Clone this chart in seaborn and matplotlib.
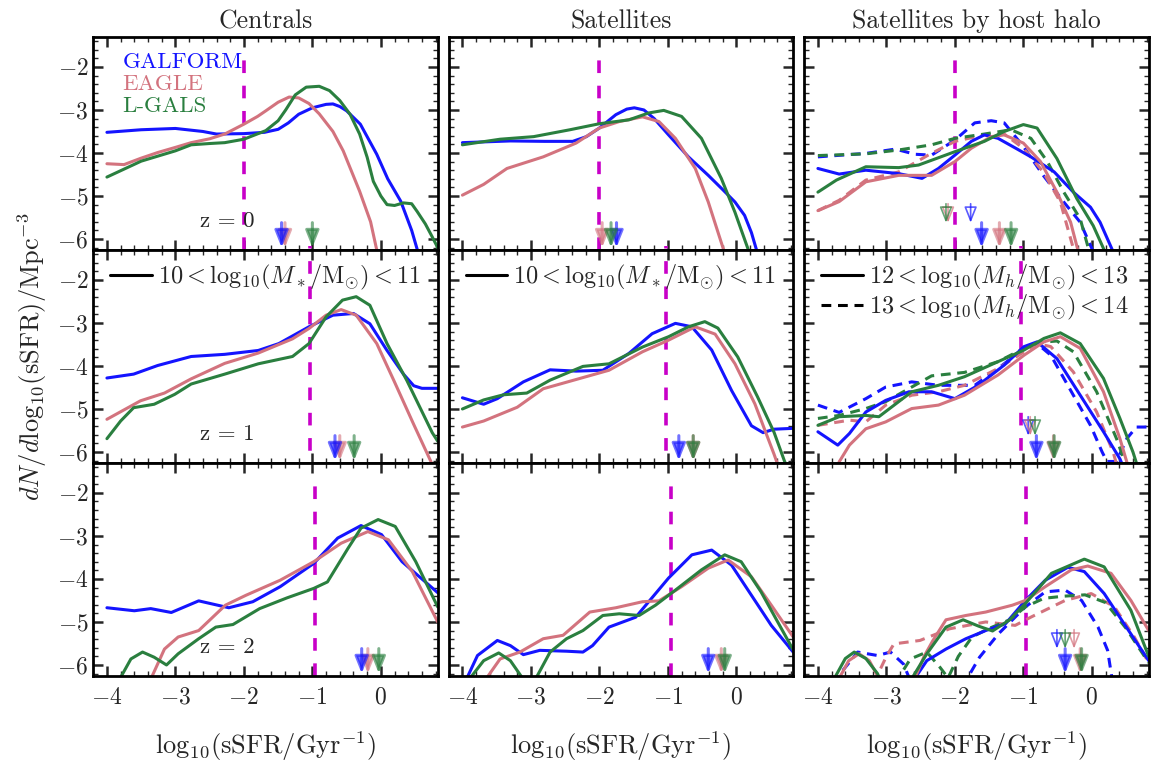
import seaborn as sns
import matplotlib.pyplot as plt
from matplotlib.lines import Line2D
from matplotlib.ticker import MultipleLocator

# style: seaborn ticks, then serif / computer-modern look
sns.set_style('ticks')
plt.rcParams['font.family'] = 'serif'
plt.rcParams['font.serif'] = ['cmr10', 'DejaVu Serif']
plt.rcParams['mathtext.fontset'] = 'cm'
plt.rcParams['axes.formatter.use_mathtext'] = True
plt.rcParams['axes.unicode_minus'] = True

BLUE = '#1414ff'
PINK = '#d3737e'
GREEN = '#2a7f3f'
MAGENTA = '#c800c8'

# ---------------- data ----------------
# z = 0, centrals
cen0_gf = ([-4.0, -3.5, -3.0, -2.6, -2.4, -2.0, -1.7, -1.5, -1.35, -1.2, -1.0, -0.8, -0.7, -0.6, -0.5, -0.3, -0.06, 0.1, 0.29, 0.45, 0.56],
           [-3.52, -3.46, -3.43, -3.5, -3.56, -3.55, -3.52, -3.45, -3.3, -3.1, -2.95, -2.87, -2.86, -2.92, -3.02, -3.33, -4.03, -4.6, -5.12, -5.8, -6.4])
cen0_ea = ([-4.0, -3.75, -3.5, -3.26, -3.0, -2.77, -2.5, -2.28, -2.0, -1.8, -1.68, -1.5, -1.34, -1.2, -1.05, -0.9, -0.7, -0.55, -0.31, -0.15, -0.04],
           [-4.25, -4.27, -4.12, -3.99, -3.87, -3.76, -3.67, -3.56, -3.33, -3.15, -3.02, -2.82, -2.70, -2.72, -2.85, -3.09, -3.5, -3.95, -4.89, -5.6, -6.4])
cen0_lg = ([-4.0, -3.5, -3.0, -2.77, -2.5, -2.28, -2.0, -1.68, -1.5, -1.39, -1.25, -1.09, -0.9, -0.75, -0.6, -0.45, -0.31, -0.2, -0.11, 0.0, 0.09, 0.2, 0.33, 0.45, 0.53, 0.65, 0.75, 0.83],
           [-4.56, -4.19, -3.95, -3.81, -3.78, -3.76, -3.68, -3.48, -3.25, -3.0, -2.65, -2.47, -2.45, -2.55, -2.78, -3.1, -3.56, -4.1, -4.66, -5.0, -5.2, -5.22, -5.16, -5.18, -5.36, -5.65, -5.95, -6.2])

# z = 0, satellites
sat0_gf = ([-4.0, -3.3, -2.8, -2.39, -2.19, -2.0, -1.76, -1.6, -1.49, -1.35, -1.2, -0.99, -0.7, -0.41, -0.2, -0.02, 0.12, 0.22, 0.29, 0.35],
           [-3.76, -3.72, -3.73, -3.73, -3.62, -3.42, -3.11, -2.98, -2.95, -3.0, -3.2, -3.58, -4.09, -4.52, -4.85, -5.14, -5.45, -5.85, -6.23, -6.5])
sat0_ea = ([-4.0, -3.69, -3.35, -2.82, -2.34, -2.0, -1.71, -1.37, -1.13, -0.89, -0.6, -0.41, -0.19, -0.1],
           [-4.98, -4.73, -4.36, -4.09, -3.77, -3.42, -3.27, -3.16, -3.27, -3.66, -4.36, -5.14, -6.23, -6.6])
sat0_lg = ([-4.0, -3.45, -2.96, -2.43, -2.0, -1.57, -1.28, -1.06, -0.8, -0.51, -0.22, -0.02, 0.17, 0.25],
           [-3.81, -3.68, -3.62, -3.46, -3.32, -3.23, -3.07, -3.01, -3.15, -3.66, -4.59, -5.38, -6.23, -6.6])

# z = 0, satellites by host halo (solid: 12-13, dashed: 13-14)
host0_gf = ([-4.0, -3.69, -3.3, -2.82, -2.48, -2.24, -2.0, -1.76, -1.57, -1.37, -1.1, -0.89, -0.55, -0.27, -0.02, 0.12, 0.29, 0.36],
            [-4.36, -4.49, -4.40, -4.48, -4.59, -4.36, -4.05, -3.73, -3.58, -3.66, -3.9, -4.09, -4.44, -4.91, -5.26, -5.61, -6.22, -6.5])
host0_gf_d = ([-4.0, -3.3, -2.87, -2.58, -2.34, -2.0, -1.71, -1.47, -1.28, -1.0, -0.71, -0.41, -0.17, 0.0, 0.1],
              [-4.09, -4.01, -3.91, -4.03, -4.05, -3.70, -3.30, -3.25, -3.30, -3.85, -4.52, -5.14, -5.61, -6.22, -6.6])
host0_ea = ([-4.0, -3.69, -3.3, -2.82, -2.34, -2.0, -1.76, -1.47, -1.28, -1.0, -0.75, -0.51, -0.31, -0.21, -0.12],
            [-5.34, -5.13, -4.67, -4.52, -4.52, -4.2, -3.89, -3.62, -3.58, -3.77, -4.2, -4.91, -5.61, -6.22, -6.6])
host0_ea_d = ([-4.0, -3.69, -3.3, -2.82, -2.39, -2.0, -1.57, -1.28, -1.0, -0.71, -0.46, -0.27, -0.18],
              [-5.34, -5.1, -4.63, -4.44, -4.05, -3.73, -3.58, -3.56, -3.89, -4.44, -5.14, -6.22, -6.6])
host0_lg = ([-4.0, -3.73, -3.3, -2.82, -2.53, -2.0, -1.57, -1.28, -1.0, -0.8, -0.51, -0.22, 0.02, 0.17, 0.25],
            [-4.91, -4.63, -4.32, -4.34, -4.28, -3.97, -3.73, -3.5, -3.34, -3.42, -4.13, -5.06, -5.69, -6.22, -6.6])
host0_lg_d = ([-4.0, -3.3, -2.82, -2.34, -2.0, -1.57, -1.18, -0.89, -0.65, -0.41, -0.17, -0.05, 0.05],
              [-4.06, -4.02, -3.93, -3.81, -3.66, -3.56, -3.46, -3.66, -4.2, -4.91, -5.53, -6.22, -6.6])

# z = 1, centrals
cen1_gf = ([-4.0, -3.61, -3.26, -2.77, -2.28, -1.79, -1.49, -1.05, -0.7, -0.4, -0.16, 0.09, 0.33, 0.48, 0.6, 0.83],
           [-4.28, -4.19, -3.99, -3.78, -3.73, -3.64, -3.48, -3.09, -2.82, -2.78, -3.02, -3.64, -4.19, -4.46, -4.52, -4.52])
cen1_ea = ([-4.0, -3.51, -3.16, -2.77, -2.28, -1.79, -1.29, -1.05, -0.8, -0.58, -0.36, -0.06, 0.19, 0.48, 0.73, 0.8],
           [-5.24, -4.81, -4.63, -4.30, -3.94, -3.70, -3.37, -3.13, -2.82, -2.69, -2.82, -3.48, -4.34, -5.36, -6.22, -6.5])
cen1_lg = ([-4.0, -3.8, -3.61, -3.31, -3.01, -2.77, -2.28, -1.79, -1.29, -1.05, -0.8, -0.56, -0.36, -0.16, 0.09, 0.38, 0.75, 0.83],
           [-5.69, -5.28, -4.97, -4.89, -4.66, -4.42, -4.19, -3.95, -3.78, -3.48, -2.86, -2.47, -2.39, -2.59, -3.48, -4.34, -5.55, -5.75])

# z = 1, satellites
sat1_gf = ([-4.0, -3.69, -3.49, -3.11, -2.72, -2.34, -1.95, -1.57, -1.23, -0.89, -0.65, -0.36, -0.07, 0.22, 0.39, 0.55, 0.83],
           [-4.74, -4.89, -4.76, -4.37, -4.09, -4.12, -4.10, -3.71, -3.25, -3.01, -3.09, -3.63, -4.57, -5.39, -5.55, -5.47, -5.45])
sat1_ea = ([-4.0, -3.69, -3.2, -2.82, -2.24, -1.86, -1.37, -0.99, -0.6, -0.31, -0.02, 0.27, 0.55, 0.65],
           [-5.42, -5.28, -4.96, -4.53, -4.27, -4.10, -3.67, -3.40, -3.09, -3.26, -3.95, -4.88, -6.05, -6.5])
sat1_lg = ([-4.0, -3.69, -3.4, -3.06, -2.72, -2.24, -1.86, -1.37, -0.99, -0.7, -0.46, -0.27, 0.02, 0.31, 0.55, 0.7, 0.78],
           [-5.0, -4.79, -4.67, -4.63, -4.33, -4.01, -3.95, -3.56, -3.32, -3.09, -2.97, -3.12, -3.79, -4.72, -5.54, -6.2, -6.5])

# z = 1, satellites by host halo
host1_gf = ([-4.0, -3.71, -3.54, -3.3, -3.01, -2.67, -2.34, -2.0, -1.66, -1.28, -0.99, -0.8, -0.51, -0.17, 0.17, 0.41, 0.5],
            [-5.53, -5.84, -5.57, -5.07, -4.80, -4.60, -4.60, -4.76, -4.45, -3.98, -3.55, -3.44, -3.83, -4.68, -5.53, -6.16, -6.5])
host1_gf_d = ([-4.0, -3.69, -3.3, -3.01, -2.63, -2.24, -1.71, -1.37, -0.99, -0.8, -0.6, -0.27, -0.02, 0.15, 0.22, 0.36, 0.51, 0.65, 0.83],
              [-4.91, -5.08, -4.76, -4.49, -4.37, -4.45, -4.45, -4.06, -3.59, -3.48, -3.75, -4.68, -5.38, -6.0, -6.22, -6.22, -5.69, -5.42, -5.42])
host1_ea = ([-3.75, -3.69, -3.54, -3.3, -3.01, -2.63, -2.24, -1.86, -1.37, -0.99, -0.7, -0.46, -0.17, 0.17, 0.41, 0.51, 0.6],
            [-6.6, -6.23, -5.84, -5.46, -5.30, -4.99, -4.91, -4.68, -4.21, -3.75, -3.44, -3.32, -3.59, -4.60, -5.69, -6.23, -6.6])
host1_ea_d = ([-4.0, -3.54, -3.3, -3.01, -2.63, -2.24, -1.86, -1.37, -0.99, -0.8, -0.6, -0.27, 0.07, 0.31, 0.4],
              [-5.38, -5.26, -5.30, -4.91, -4.68, -4.60, -4.45, -4.06, -3.67, -3.48, -3.55, -4.14, -5.07, -6.0, -6.5])
host1_lg = ([-4.0, -3.69, -3.3, -3.11, -2.92, -2.63, -2.24, -1.86, -1.37, -0.99, -0.7, -0.46, -0.17, 0.17, 0.41, 0.6, 0.7],
            [-5.38, -5.18, -5.15, -5.18, -4.95, -4.60, -4.45, -4.25, -3.90, -3.63, -3.36, -3.23, -3.48, -4.29, -5.22, -6.0, -6.5])
host1_lg_d = ([-4.0, -3.69, -3.3, -3.01, -2.63, -2.34, -1.86, -1.37, -0.99, -0.75, -0.51, -0.27, 0.07, 0.36, 0.48, 0.55],
              [-5.22, -5.15, -4.99, -4.83, -4.49, -4.23, -4.15, -3.90, -3.59, -3.45, -3.42, -3.67, -4.60, -5.69, -6.23, -6.5])

# z = 2, centrals
cen2_gf = ([-4.0, -3.6, -3.36, -3.06, -2.66, -2.22, -1.87, -1.47, -0.98, -0.63, -0.29, 0.01, 0.31, 0.83],
           [-4.67, -4.74, -4.69, -4.78, -4.51, -4.67, -4.53, -4.18, -3.64, -3.05, -2.76, -2.97, -3.60, -4.32])
cen2_ea = ([-3.45, -3.36, -3.16, -2.96, -2.66, -2.27, -1.97, -1.47, -0.98, -0.58, -0.19, 0.11, 0.46, 0.83],
           [-6.6, -6.33, -5.63, -5.35, -5.20, -4.61, -4.38, -4.03, -3.60, -3.17, -2.90, -3.09, -3.83, -5.0])
cen2_lg = ([-3.9, -3.8, -3.65, -3.48, -3.31, -3.13, -2.96, -2.66, -2.41, -2.16, -1.77, -1.37, -0.98, -0.78, -0.48, -0.29, -0.04, 0.21, 0.51, 0.83],
           [-6.6, -6.29, -5.86, -5.70, -5.82, -6.0, -5.74, -5.39, -5.12, -5.06, -4.69, -4.44, -4.22, -4.07, -3.29, -2.82, -2.62, -2.78, -3.60, -4.65])

# z = 2, satellites
sat2_gf = ([-4.0, -3.93, -3.78, -3.49, -3.30, -3.11, -2.87, -2.48, -2.24, -2.10, -1.86, -1.47, -1.28, -0.99, -0.65, -0.36, -0.07, 0.22, 0.51, 0.83],
           [-6.6, -6.29, -5.78, -5.43, -5.55, -5.76, -5.66, -5.68, -5.70, -5.55, -5.12, -4.89, -4.53, -3.98, -3.44, -3.33, -3.68, -4.38, -5.08, -5.7])
sat2_ea = ([-3.72, -3.64, -3.45, -3.16, -2.82, -2.53, -2.14, -1.76, -1.37, -1.13, -0.8, -0.41, -0.12, 0.22, 0.51, 0.83],
           [-6.6, -6.29, -5.86, -5.70, -5.39, -5.31, -4.77, -4.67, -4.53, -4.51, -4.18, -3.75, -3.56, -3.95, -4.61, -5.35])
sat2_lg = ([-3.95, -3.88, -3.69, -3.47, -3.30, -3.13, -3.02, -2.92, -2.72, -2.48, -2.24, -1.95, -1.71, -1.42, -1.18, -0.89, -0.51, -0.17, 0.07, 0.36, 0.83],
           [-6.6, -6.29, -5.90, -5.72, -5.90, -6.29, -6.8, -6.29, -5.70, -5.39, -5.20, -4.85, -4.81, -4.85, -4.61, -4.26, -3.79, -3.44, -3.60, -4.30, -5.65])

# z = 2, satellites by host halo
host2_gf = ([-2.7, -2.61, -2.41, -2.13, -1.84, -1.55, -1.26, -0.97, -0.68, -0.35, -0.11, 0.18, 0.47, 0.83],
            [-6.8, -6.37, -5.90, -5.63, -5.39, -5.20, -5.04, -4.50, -4.03, -3.73, -3.83, -4.34, -5.04, -5.9])
host2_gf_d = ([-3.85, -3.76, -3.42, -3.13, -2.94, -2.75, -2.65, -2.2, -1.84, -1.64, -1.36, -0.97, -0.68, -0.39, -0.15, 0.09, 0.23, 0.30, 0.4],
              [-6.8, -6.37, -5.70, -5.78, -5.70, -5.98, -6.37, -7.5, -6.37, -5.82, -5.27, -4.65, -4.30, -4.26, -4.50, -5.12, -5.66, -6.37, -6.8])
host2_ea = ([-3.8, -3.71, -3.55, -3.4, -3.25, -3.09, -2.85, -2.6, -2.45, -2.32, -2.13, -1.84, -1.55, -1.16, -0.97, -0.68, -0.30, -0.06, 0.28, 0.57, 0.83],
            [-6.8, -6.37, -5.9, -5.74, -5.9, -6.37, -7.5, -6.37, -5.8, -5.43, -4.95, -4.85, -4.77, -4.61, -4.50, -4.18, -3.79, -3.70, -3.87, -4.50, -5.2])
host2_ea_d = ([-3.25, -3.15, -3.0, -2.89, -2.51, -2.08, -1.55, -1.12, -0.88, -0.39, -0.01, 0.33, 0.62, 0.83],
              [-6.8, -6.3, -5.8, -5.51, -5.43, -5.16, -5.0, -5.08, -4.88, -4.50, -4.34, -4.65, -5.35, -5.95])
host2_lg = ([-3.9, -3.78, -3.6, -3.47, -3.3, -3.13, -3.05, -2.85, -2.65, -2.41, -2.13, -1.88, -1.65, -1.45, -1.2, -0.97, -0.59, -0.11, 0.18, 0.57, 0.83],
            [-6.8, -6.37, -5.85, -5.70, -5.85, -6.2, -6.5, -7.5, -6.37, -5.74, -5.12, -4.95, -5.1, -5.21, -4.95, -4.57, -3.87, -3.54, -3.72, -4.73, -5.8])
host2_lg_d = ([-2.95, -2.85, -2.65, -2.41, -2.22, -2.1, -1.95, -1.75, -1.5, -1.2, -0.97, -0.7, -0.4, -0.1, 0.2, 0.5, 0.83],
              [-6.8, -6.37, -5.86, -5.70, -6.05, -6.3, -5.8, -5.35, -5.15, -4.95, -4.65, -4.45, -4.40, -4.37, -4.55, -5.15, -5.95])

# median sSFR arrows (GALFORM, EAGLE, L-GALS); open = 13-14 host sample
arrows_cen = [[-1.45, -1.40, -1.00], [-0.67, -0.60, -0.39], [-0.28, -0.19, -0.03]]
arrows_sat = [[-1.75, -1.96, -1.83], [-0.84, -0.63, -0.63], [-0.41, -0.22, -0.17]]
arrows_host = [[-1.61, -1.35, -1.18], [-0.81, -0.56, -0.55], [-0.39, -0.17, -0.15]]
arrows_host_open = [[-1.77, -2.10, -2.13], [-0.93, -0.90, -0.83], [-0.51, -0.26, -0.39]]

# passive cut per redshift
ssfr_cut = [-2.0, -1.03, -0.96]
redshifts = ['z = 0', 'z = 1', 'z = 2']
col_titles = ['Centrals', 'Satellites', 'Satellites by host halo']
model_names = ['GALFORM', 'EAGLE', 'L-GALS']
model_colors = [BLUE, PINK, GREEN]

cen_curves = [[cen0_gf, cen0_ea, cen0_lg], [cen1_gf, cen1_ea, cen1_lg], [cen2_gf, cen2_ea, cen2_lg]]
sat_curves = [[sat0_gf, sat0_ea, sat0_lg], [sat1_gf, sat1_ea, sat1_lg], [sat2_gf, sat2_ea, sat2_lg]]
host_solid = [[host0_gf, host0_ea, host0_lg], [host1_gf, host1_ea, host1_lg], [host2_gf, host2_ea, host2_lg]]
host_dash = [[host0_gf_d, host0_ea_d, host0_lg_d], [host1_gf_d, host1_ea_d, host1_lg_d], [host2_gf_d, host2_ea_d, host2_lg_d]]

# ---------------- figure ----------------
fig, axes = plt.subplots(3, 3, sharex=True, sharey=True, figsize=(11.51, 7.67), dpi=100)
fig.subplots_adjust(left=0.081, right=0.998, top=0.952, bottom=0.119, wspace=0.032, hspace=0)

LW = 2.2


def draw_curve(ax, xy, color, dashed=False):
    x, y = xy
    sns.lineplot(x=x, y=y, ax=ax, color=color, lw=LW, estimator=None, sort=False,
                 linestyle='--' if dashed else '-', dashes=False)
    ax.lines[-1].set_solid_joinstyle('round')
    if dashed:
        ax.lines[-1].set_dashes((3.2, 2.2))


def draw_arrow(ax, x, color, open_head=False):
    if open_head:
        y0, y1 = -5.18, -5.62
        props = dict(arrowstyle='-|>,head_width=0.24,head_length=0.6', color=color, lw=1.2,
                     fc='none', ec=color, alpha=0.7, mutation_scale=16, shrinkA=0, shrinkB=0)
    else:
        y0, y1 = -5.62, -6.2
        props = dict(arrowstyle='-|>,head_width=0.24,head_length=0.6', color=color, lw=2.2,
                     alpha=0.6, mutation_scale=17, shrinkA=0, shrinkB=0)
    ax.annotate('', xy=(x, y1), xytext=(x, y0), arrowprops=props)


for i in range(3):
    for j in range(3):
        ax = axes[i, j]
        # passive cut; middle row line overruns the panel edges as in the original
        if i == 1:
            ax.plot([ssfr_cut[i]] * 2, [-6.55, -1.22], color=MAGENTA, lw=2.6,
                    dashes=(3.5, 3.5), zorder=1, clip_on=False)
        else:
            ax.plot([ssfr_cut[i]] * 2, [-6.25, -1.75], color=MAGENTA, lw=2.6,
                    dashes=(3.5, 3.5), zorder=1)
        if j == 0:
            curves = cen_curves[i]
            arr = arrows_cen[i]
        elif j == 1:
            curves = sat_curves[i]
            arr = arrows_sat[i]
        else:
            curves = host_solid[i]
            arr = arrows_host[i]
            for k in range(3):
                draw_curve(ax, host_dash[i][k], model_colors[k], dashed=True)
        for k in range(3):
            draw_curve(ax, curves[k], model_colors[k])
        for k in [1, 0, 2]:
            draw_arrow(ax, arr[k], model_colors[k])
        if j == 2:
            for k in range(3):
                draw_arrow(ax, arrows_host_open[i][k], model_colors[k], open_head=True)
        if j == 0:
            ax.text(-2.25, -5.58, redshifts[i], ha='center', va='center', fontsize=16.5)

        ax.set_xlim(-4.2, 0.83)
        ax.set_ylim(-6.25, -1.3)
        ax.set_xticks([-4, -3, -2, -1, 0])
        ax.set_yticks([-2, -3, -4, -5, -6])
        ax.xaxis.set_minor_locator(MultipleLocator(0.2))
        ax.yaxis.set_minor_locator(MultipleLocator(0.2))
        ax.tick_params(which='both', direction='in', top=True, right=True, labelsize=17)
        ax.tick_params(which='major', length=7, width=1.8)
        ax.tick_params(which='minor', length=3.5, width=1.0)
        ax.tick_params(axis='x', pad=8)
        for s in ax.spines.values():
            s.set_linewidth(2.0)
            s.set_color('black')
        ax.set_xlabel('')
        ax.set_ylabel('')

for j in range(3):
    axes[0, j].set_title(col_titles[j], fontsize=18.5, pad=6)
    axes[2, j].set_xlabel(r'$\mathrm{log}_{10}(\mathrm{sSFR}/\mathrm{Gyr}^{-1})$', fontsize=19, labelpad=15)

axes[1, 0].set_ylabel(r'$dN/d\mathrm{log}_{10}(\mathrm{sSFR})/\mathrm{Mpc}^{-3}$', fontsize=19, labelpad=6)

# model labels
for k in range(3):
    axes[0, 0].text(0.085, 0.854 - 0.103 * k, model_names[k], color=model_colors[k],
                    transform=axes[0, 0].transAxes, fontsize=16.5, va='baseline')

# mass-bin legends
mstar_label = r'$10 < \mathrm{log}_{10}(M_*/\mathrm{M}_{\odot}) < 11$'
for j in range(2):
    axes[1, j].legend(handles=[Line2D([], [], color='black', lw=LW)], labels=[mstar_label],
                      loc='upper left', bbox_to_anchor=(0.0, 1.02), frameon=False, fontsize=17.5,
                      handlelength=1.7, handletextpad=0.25, borderaxespad=0.3)
axes[1, 2].legend(handles=[Line2D([], [], color='black', lw=LW),
                           Line2D([], [], color='black', lw=LW, dashes=(3.2, 2.2))],
                  labels=[r'$12 < \mathrm{log}_{10}(M_h/\mathrm{M}_{\odot}) < 13$',
                          r'$13 < \mathrm{log}_{10}(M_h/\mathrm{M}_{\odot}) < 14$'],
                  loc='upper left', bbox_to_anchor=(0.0, 1.02), frameon=False, fontsize=17.5,
                  handlelength=1.7, handletextpad=0.25, borderaxespad=0.3, labelspacing=0.05)

fig.savefig('out.png', dpi=100)
